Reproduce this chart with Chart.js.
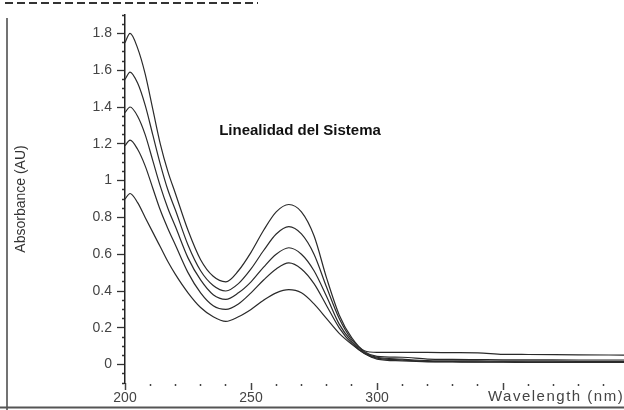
<!DOCTYPE html>
<html>
<head>
<meta charset="utf-8">
<script src="https://cdn.jsdelivr.net/npm/chart.js@4"></script>
<style>
    body { margin: 0; background: #fff; }
    canvas { display: block; }
</style>
</head>
<body>
<canvas id="spectra" width="624" height="410"></canvas>
<script>
    "use strict";

    // Wavelengths (nm) shared by all the spectra
    var wavelengths = [200, 202, 205, 208, 211, 214, 217, 220, 225, 230, 235, 240, 245, 250, 255, 260, 265,
        270, 275, 280, 285, 290, 295, 300, 310, 320, 330, 340, 350, 360, 380, 398];

    // Absorbance (AU) of each standard, highest to lowest
    var level5 = [1.75, 1.80, 1.72, 1.58, 1.39, 1.20, 1.05, 0.93, 0.73, 0.57, 0.48, 0.45, 0.51, 0.61, 0.73, 0.83, 0.87,
        0.83, 0.70, 0.47, 0.27, 0.145, 0.075, 0.066, 0.066, 0.066, 0.065, 0.064, 0.056, 0.055, 0.053, 0.052];
    var level4 = [1.55, 1.59, 1.53, 1.41, 1.25, 1.09, 0.95, 0.84, 0.65, 0.51, 0.43, 0.40, 0.44, 0.52, 0.62, 0.71, 0.75,
        0.71, 0.60, 0.42, 0.25, 0.135, 0.07, 0.045, 0.04, 0.03, 0.028, 0.027, 0.026, 0.026, 0.025, 0.025];
    var level3 = [1.37, 1.40, 1.35, 1.25, 1.11, 0.97, 0.85, 0.75, 0.58, 0.46, 0.38, 0.355, 0.39, 0.45, 0.53, 0.60, 0.635,
        0.60, 0.51, 0.37, 0.22, 0.125, 0.065, 0.04, 0.03, 0.022, 0.02, 0.02, 0.019, 0.019, 0.018, 0.018];
    var level2 = [1.19, 1.22, 1.17, 1.08, 0.96, 0.84, 0.74, 0.65, 0.50, 0.39, 0.32, 0.30, 0.33, 0.39, 0.46, 0.52, 0.553,
        0.52, 0.44, 0.32, 0.20, 0.115, 0.06, 0.035, 0.025, 0.018, 0.016, 0.015, 0.015, 0.014, 0.014, 0.014];
    var level1 = [0.90, 0.93, 0.88, 0.80, 0.72, 0.64, 0.56, 0.49, 0.39, 0.31, 0.26, 0.235, 0.26, 0.30, 0.35, 0.39, 0.407,
        0.39, 0.33, 0.25, 0.17, 0.11, 0.06, 0.03, 0.02, 0.015, 0.014, 0.013, 0.013, 0.012, 0.012, 0.012];

    // Axis settings
    var xMin = 200, xMax = 398, xStep = 10;
    var yMin = -0.1, yMax = 1.9, yStep = 0.05;

    var chartTitle = "Linealidad del Sistema";
    var xTitle = "Wavelength (nm)";
    var yTitle = "Absorbance (AU)";

    var fontFamily = "'Liberation Sans', Arial, sans-serif";

    function toPoints(values) {
        return values.map(function (v, i) {
            return { x: wavelengths[i], y: v };
        });
    }

    function makeSet(values) {
        return {
            data: toPoints(values),
            borderColor: "#2a2a2a",
            borderWidth: 1.2,
            pointRadius: 0,
            fill: false,
            cubicInterpolationMode: "monotone"
        };
    }

    // Scan frame, chart title and x axis title
    var decorations = {
        id: "decorations",
        beforeDraw: function (chart) {
            var ctx = chart.ctx;
            ctx.save();
            ctx.fillStyle = "#fff";
            ctx.fillRect(0, 0, chart.width, chart.height);
            ctx.strokeStyle = "#333";
            ctx.lineWidth = 2;
            ctx.setLineDash([8, 4]);
            ctx.beginPath();
            ctx.moveTo(5, 3);
            ctx.lineTo(258, 3);
            ctx.stroke();
            ctx.setLineDash([]);
            ctx.lineWidth = 1.5;
            ctx.strokeStyle = "#444";
            ctx.beginPath();
            ctx.moveTo(7, 18);
            ctx.lineTo(7, 410);
            ctx.stroke();
            ctx.lineWidth = 2;
            ctx.strokeStyle = "#555";
            ctx.beginPath();
            ctx.moveTo(0, 407.5);
            ctx.lineTo(624, 407.5);
            ctx.stroke();
            ctx.restore();
        },
        afterDraw: function (chart) {
            var ctx = chart.ctx;
            ctx.save();
            ctx.fillStyle = "#111";
            ctx.font = "bold 15px " + fontFamily;
            ctx.textAlign = "center";
            ctx.textBaseline = "middle";
            ctx.fillText(chartTitle, 300, 131);
            ctx.fillStyle = "#444";
            ctx.font = "15px " + fontFamily;
            ctx.letterSpacing = "1.5px";
            ctx.textAlign = "left";
            ctx.fillText(xTitle, 488, 397);
            ctx.restore();
        }
    };

    var ctx1 = document.getElementById("spectra").getContext("2d");
    var myChart1 = new Chart(ctx1, {
        type: "line",
        data: {
            datasets: [makeSet(level5), makeSet(level4), makeSet(level3), makeSet(level2), makeSet(level1)]
        },
        plugins: [decorations],
        options: {
            responsive: false,
            animation: false,
            devicePixelRatio: 1,
            layout: { padding: { top: 15, right: 0, left: 0, bottom: 0 } },
            plugins: {
                legend: { display: false },
                tooltip: { enabled: false }
            },
            scales: {
                x: {
                    type: "linear",
                    min: xMin,
                    max: xMax,
                    afterFit: function (scale) { scale.height = 27; },
                    border: { display: false },
                    grid: {
                        drawOnChartArea: false,
                        drawTicks: true,
                        tickLength: 7,
                        tickColor: "#444",
                        tickWidth: 1.5,
                        tickBorderDash: function (c) {
                            return Math.round(c.tick.value) % 50 === 0 ? [] : [2, 20];
                        },
                        tickBorderDashOffset: function (c) {
                            return Math.round(c.tick.value) % 50 === 0 ? 0 : 21;
                        }
                    },
                    ticks: {
                        stepSize: xStep,
                        includeBounds: false,
                        maxRotation: 0,
                        autoSkip: false,
                        padding: 0,
                        color: "#444",
                        font: { family: fontFamily, size: 14 },
                        callback: function (v) {
                            var n = Math.round(v);
                            return (n % 50 === 0 && n < 350) ? String(n) : "";
                        }
                    }
                },
                y: {
                    min: yMin,
                    max: yMax,
                    afterFit: function (scale) { scale.width = 125; },
                    border: { display: true, color: "#222", width: 1.5 },
                    grid: {
                        drawOnChartArea: false,
                        drawTicks: true,
                        tickLength: 8,
                        tickColor: "#333",
                        tickWidth: 1.3,
                        tickBorderDash: function (c) {
                            return Math.round(c.tick.value * 100) % 20 === 0 ? [] : [3, 5];
                        },
                        tickBorderDashOffset: function (c) {
                            return Math.round(c.tick.value * 100) % 20 === 0 ? 0 : 3;
                        }
                    },
                    title: {
                        display: true,
                        text: yTitle,
                        color: "#333",
                        padding: { top: 13, bottom: 0 },
                        font: { family: fontFamily, size: 14 }
                    },
                    ticks: {
                        stepSize: yStep,
                        autoSkip: false,
                        padding: 5,
                        color: "#444",
                        font: { family: fontFamily, size: 14 },
                        callback: function (v) {
                            var n = Math.round(v * 100);
                            if (n < 0 || n > 180 || n % 20 !== 0) {
                                return "";
                            }
                            return String(Math.round(v * 10) / 10);
                        }
                    }
                }
            }
        }
    });
</script>
</body>
</html>
